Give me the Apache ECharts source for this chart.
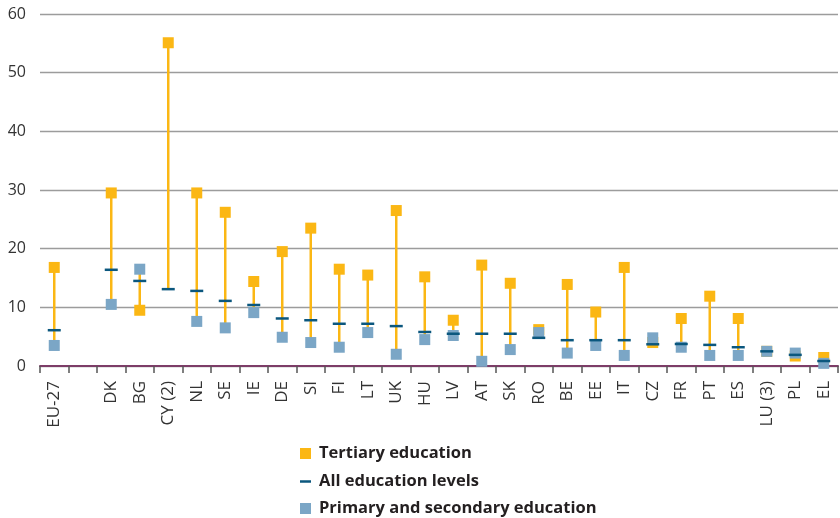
<!DOCTYPE html>
<html>
<head>
<meta charset="utf-8">
<script src="https://cdn.jsdelivr.net/npm/echarts@6/dist/echarts.min.js"></script>
<style>
html,body{margin:0;padding:0;background:#fff;}
#chart{width:840px;height:518px;}
</style>
</head>
<body>
<div id="chart"></div>
<script>
var categories = ['EU-27','','DK','BG','CY (2)','NL','SE','IE','DE','SI','FI','LT','UK','HU','LV','AT','SK','RO','BE','EE','IT','CZ','FR','PT','ES','LU (3)','PL','EL'];
var tertiary  = [16.8,null,29.5, 9.5,55.1,29.5,26.2,14.4,19.5,23.5,16.5,15.5,26.5,15.2,7.8,17.2,14.1,6.2,13.9,9.2,16.8,4.0,8.1,11.9,8.1,2.5,1.7,1.45];
var allLevels = [6.1,null,16.4,14.5,13.1,12.8,11.1,10.4,8.1,7.8,7.2,7.2,6.8,5.8,5.5,5.5,5.5,4.8,4.4,4.4,4.4,3.7,3.75,3.6,3.2,2.5,1.9,0.85];
var primarySec= [3.5,null,10.5,16.5,null,7.6,6.5,9.1,4.9,4.0,3.2,5.7,2.0,4.5,5.2,0.8,2.8,5.7,2.2,3.5,1.8,4.8,3.2,1.8,1.8,2.5,2.2,0.45];
var yTicks = [0,10,20,30,40,50,60];

var rangeData = categories.map(function(c,i){
  var t = tertiary[i], p = primarySec[i] != null ? primarySec[i] : allLevels[i];
  if (t == null || p == null) return [i, null, null];
  return [i, Math.min(t,p), Math.max(t,p)];
});

var chart = echarts.init(document.getElementById('chart'));
var fontFam = '"Open Sans", "Noto Sans", sans-serif';
var legText = {fontSize:16.5,fontWeight:'bold',color:'#231f20',fontFamily:fontFam,padding:[0,0,0,3]};
chart.setOption({
  animation:false,
  backgroundColor:'#fff',
  grid:{left:40,right:2,top:14,bottom:152,containLabel:false},
  xAxis:{
    type:'category', data:categories, boundaryGap:true,
    axisLine:{lineStyle:{color:'#7d3d68',width:2}},
    axisTick:{show:true,length:7,lineStyle:{color:'#555',width:1.5},interval:0},
    axisLabel:{rotate:90,interval:0,fontSize:17,color:'#333',fontFamily:fontFam,margin:15}
  },
  yAxis:{
    type:'value', min:yTicks[0], max:yTicks[yTicks.length-1], interval:10,
    axisLine:{show:false}, axisTick:{show:false},
    axisLabel:{fontSize:16,color:'#333',fontFamily:fontFam,margin:14},
    splitLine:{lineStyle:{color:'#9c9c9c',width:1.3}}
  },
  legend:[
    {data:[{name:'Tertiary education',icon:'rect'}],orient:'vertical',left:295,top:440,itemWidth:11,itemHeight:11,
     textStyle:legText,selectedMode:false},
    {data:[{name:'All education levels',icon:'rect'}],orient:'vertical',left:295,top:468,itemWidth:11,itemHeight:2.5,
     textStyle:legText,selectedMode:false},
    {data:[{name:'Primary and secondary education',icon:'rect'}],orient:'vertical',left:295,top:495,itemWidth:11,itemHeight:11,
     textStyle:legText,selectedMode:false}
  ],
  series:[
    {
      type:'custom', name:'range', z:1, silent:true,
      data:rangeData,
      renderItem:function(params, api){
        if (api.value(1) == null || isNaN(api.value(1))) return null;
        var a = api.coord([api.value(0), api.value(1)]);
        var b = api.coord([api.value(0), api.value(2)]);
        return {type:'line', shape:{x1:a[0],y1:a[1],x2:b[0],y2:b[1]},
          style:{stroke:'#fbb714',lineWidth:2.5}};
      }
    },
    {type:'scatter', name:'Tertiary education', data:tertiary, symbol:'rect', symbolSize:11, z:2,
     itemStyle:{color:'#fbb714',opacity:1}},
    {type:'scatter', name:'Primary and secondary education', data:primarySec, symbol:'rect', symbolSize:11, z:3,
     itemStyle:{color:'#7ba6c6',opacity:1}},
    {type:'scatter', name:'All education levels', data:allLevels, symbol:'rect', symbolSize:[13,2.5], z:4,
     itemStyle:{color:'#0b577e',opacity:1}}
  ]
});
</script>
</body>
</html>
